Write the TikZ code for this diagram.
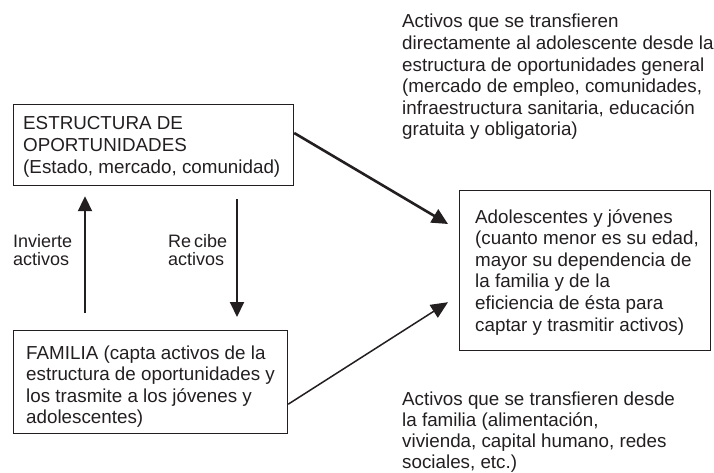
\documentclass[tikz,border=0pt]{standalone}
\usepackage{fontspec}
\setmainfont{Liberation Sans}
\usetikzlibrary{arrows.meta,calc}
\definecolor{ink}{HTML}{231F20}
\newcommand{\mylines}[1]{\parbox[t]{330pt}{\raggedright #1}}
\begin{document}
\begin{tikzpicture}[x=1pt,y=-1pt,
  box/.style={draw=ink, line width=1.2pt, inner sep=0pt, anchor=north west},
  txt/.style={inner sep=0pt, anchor=base west, text=ink, font=\fontsize{18.8}{21.6}\selectfont},
  lbl/.style={inner sep=0pt, anchor=base west, text=ink, font=\fontsize{18}{18}\selectfont},
  arr/.style={draw=ink, line width=2pt, -{Triangle[length=15pt,width=14pt]}},
]
\useasboundingbox (0,0) rectangle (714,473);

% boxes
\node[box, minimum width=280pt, minimum height=81pt] (est) at (13,104) {};
\node[box, minimum width=274pt, minimum height=103pt] (fam) at (13,330) {};
\node[box, minimum width=251pt, minimum height=160pt] (ado) at (459,190) {};

% texts
\node[txt] (t-top) at (402,28) {\mylines{Activos que se transfieren\\directamente al adolescente desde la\\estructura de oportunidades general\\(mercado de empleo, comunidades,\\infraestructura sanitaria, educación\\gratuita y obligatoria)}};
\node[txt] (t-est) at (23,130) {\mylines{ESTRUCTURA DE\\OPORTUNIDADES\\(Estado, mercado, comunidad)}};
\node[txt] (t-fam) at (26,359) {\mylines{FAMILIA (capta activos de la\\estructura de oportunidades y\\los trasmite a los jóvenes y\\adolescentes)}};
\node[txt] (t-ado) at (475,223) {\mylines{Adolescentes y jóvenes\\(cuanto menor es su edad,\\mayor su dependencia de\\la familia y de la\\eficiencia de ésta para\\captar y trasmitir activos)}};
\node[txt, font=\fontsize{18.8}{21}\selectfont] (t-bot) at (402,405) {\mylines{Activos que se transfieren desde\\la familia (alimentación,\\vivienda, capital humano, redes\\sociales, etc.)}};
\node[lbl] (l-inv) at (13,247) {\mylines{Invierte\\activos}};
\node[lbl] (l-rec) at (168,247) {\mylines{Re\hspace{3pt}cibe\\activos}};

% connectors
\draw[arr] ($(fam.north west)+(72,-17)$) -- ($(est.south west)+(72,10)$);
\draw[arr] ($(est.south west)+(224,13)$) -- ($(fam.north west)+(224,-13)$);
\draw[arr, line width=2.6pt, -{Triangle[length=16pt,width=15pt]}] ($(est.north east)+(0,29)$) -- ($(ado.north west)+(-11,34)$);
\draw[arr, line width=1.5pt, -{Triangle[length=17pt,width=15pt]}] ($(fam.south east)+(0,-30)$) -- ($(ado.south west)+(-11,-49)$);
\end{tikzpicture}
\end{document}
